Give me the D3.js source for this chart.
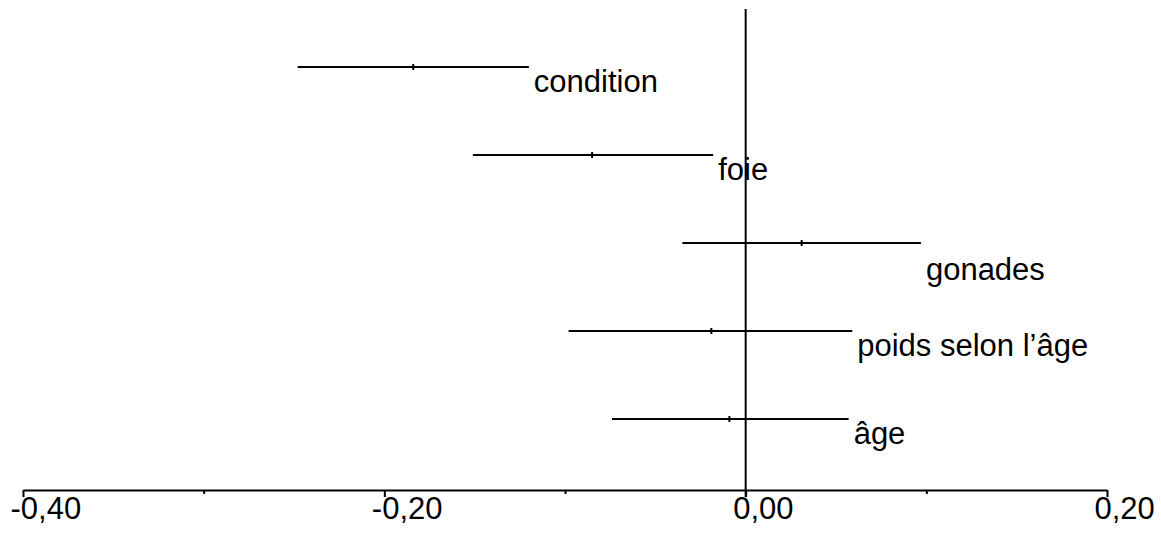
<!DOCTYPE html>
<html>
<head>
<meta charset="utf-8">
<script src="https://cdn.jsdelivr.net/npm/d3@7"></script>
<style>
  html, body { margin: 0; padding: 0; background: #fff; }
  svg { display: block; }
  text { font-family: "Liberation Sans", Arial, sans-serif; font-size: 31px; fill: #000; }
</style>
</head>
<body>
<svg id="chart" width="1161" height="533"></svg>
<script>
// Coefficients with their confidence intervals
const variables = ["condition", "foie", "gonades", "poids selon l\u2019âge", "âge"];
const lower    = [-0.248, -0.151, -0.035, -0.098, -0.074];
const estimate = [-0.184, -0.085,  0.031, -0.019, -0.009];
const upper    = [-0.120, -0.018,  0.097,  0.059,  0.057];
const majorTicks = [-0.40, -0.20, 0.00, 0.20];
const minorTicks = [-0.30, -0.10, 0.10];

const svg = d3.select("#chart");

const x = d3.scaleLinear().domain([-0.40, 0.20]).range([23, 1107]);
const y = d3.scalePoint().domain(variables).range([67, 419]);
const axisY = 490;

const locale = d3.formatLocale({ decimal: ",", thousands: " ", grouping: [3], currency: ["", ""], minus: "-" });
const fmt = locale.format(".2f");

// extra downward shift for labels that would otherwise collide with the zero line
const labelShift = { "gonades": 12 };

const rows = variables.map((v, i) => ({ name: v, lo: lower[i], est: estimate[i], hi: upper[i] }));

// interval lines
const g = svg.append("g");
g.selectAll("line.ci").data(rows).join("line")
  .attr("class", "ci")
  .attr("x1", d => x(d.lo)).attr("x2", d => x(d.hi))
  .attr("y1", d => y(d.name)).attr("y2", d => y(d.name))
  .attr("stroke", "#000").attr("stroke-width", 2);

// point estimates as small ticks
g.selectAll("line.est").data(rows).join("line")
  .attr("class", "est")
  .attr("x1", d => x(d.est)).attr("x2", d => x(d.est))
  .attr("y1", d => y(d.name) - 3).attr("y2", d => y(d.name) + 3)
  .attr("stroke", "#000").attr("stroke-width", 2);

// variable labels
g.selectAll("text.lab").data(rows).join("text")
  .attr("class", "lab")
  .attr("x", d => x(d.hi) + 5)
  .attr("y", d => y(d.name) + 25 + (labelShift[d.name] || 0))
  .text(d => d.name);

// x axis: major ticks with labels
const axisMajor = d3.axisBottom(x).tickValues(majorTicks).tickSize(7).tickSizeOuter(0).tickFormat(fmt);
const ax = svg.append("g").attr("transform", `translate(0,${axisY})`).call(axisMajor);
ax.select(".domain").attr("stroke", "#000").attr("stroke-width", 2);
ax.selectAll(".tick line").attr("stroke", "#000").attr("stroke-width", 2);
ax.selectAll(".tick text")
  .attr("font-size", null).attr("font-family", null)
  .attr("text-anchor", "start")
  .attr("x", -13).attr("y", 29).attr("dy", null)
  .style("font-size", "31px").style("font-family", "'Liberation Sans', Arial, sans-serif");

// minor ticks
const axisMinor = d3.axisBottom(x).tickValues(minorTicks).tickSize(4).tickSizeOuter(0).tickFormat("");
const axm = svg.append("g").attr("transform", `translate(0,${axisY})`).call(axisMinor);
axm.select(".domain").remove();
axm.selectAll(".tick line").attr("stroke", "#000").attr("stroke-width", 2);

// zero reference line
svg.append("line")
  .attr("x1", x(0)).attr("x2", x(0))
  .attr("y1", 9).attr("y2", axisY + 7)
  .attr("stroke", "#000").attr("stroke-width", 2);
</script>
</body>
</html>
